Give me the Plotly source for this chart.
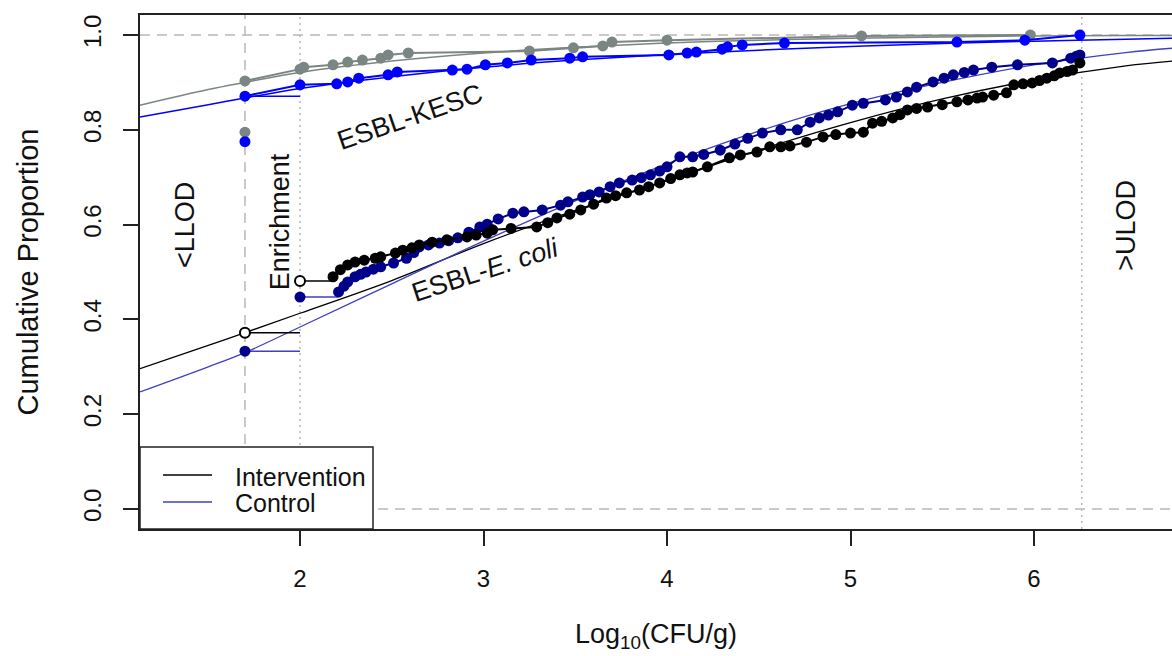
import plotly.graph_objects as go

# ---- reference limits (log10 CFU/g) ----
LLOD = 1.7
ENRICH = 2.0
ULOD = 6.26

# ---- ESBL-E. coli : Intervention (black) ----
ecoli_int_x = [2.18, 2.22, 2.26, 2.30, 2.35, 2.41, 2.44, 2.52, 2.56, 2.61,
               2.65, 2.72, 2.80, 2.91, 2.96, 3.02, 3.05, 3.15, 3.29, 3.35,
               3.40, 3.47, 3.53, 3.60, 3.67, 3.72, 3.78, 3.85, 3.90, 3.96,
               4.02, 4.07, 4.11, 4.14, 4.22, 4.34, 4.40, 4.49, 4.56, 4.62,
               4.67, 4.76, 4.85, 4.92, 5.00, 5.07, 5.12, 5.17, 5.23, 5.27,
               5.31, 5.36, 5.42, 5.50, 5.58, 5.64, 5.69, 5.72, 5.78, 5.85,
               5.89, 5.94, 5.99, 6.03, 6.07, 6.11, 6.14, 6.18, 6.21, 6.25]
ecoli_int_y = [0.490, 0.505, 0.515, 0.521, 0.525, 0.529, 0.532, 0.540, 0.546, 0.551,
               0.557, 0.563, 0.568, 0.574, 0.578, 0.582, 0.589, 0.592, 0.595, 0.604,
               0.614, 0.622, 0.631, 0.643, 0.656, 0.661, 0.667, 0.673, 0.680, 0.688,
               0.697, 0.705, 0.709, 0.711, 0.722, 0.741, 0.747, 0.753, 0.764, 0.764,
               0.766, 0.774, 0.785, 0.790, 0.793, 0.795, 0.814, 0.818, 0.825, 0.832,
               0.842, 0.845, 0.848, 0.853, 0.859, 0.863, 0.867, 0.869, 0.873, 0.878,
               0.895, 0.897, 0.899, 0.904, 0.909, 0.914, 0.920, 0.923, 0.926, 0.941]
ecoli_int_llod = 0.372
ecoli_int_enrich = 0.481

# ---- ESBL-E. coli : Control (navy) ----
ecoli_ctrl_x = [2.21, 2.24, 2.26, 2.30, 2.33, 2.36, 2.40, 2.44, 2.51, 2.58,
                2.62, 2.65, 2.70, 2.76, 2.81, 2.86, 2.92, 2.98, 3.02, 3.08,
                3.16, 3.22, 3.32, 3.42, 3.46, 3.54, 3.58, 3.63, 3.69, 3.74,
                3.81, 3.86, 3.91, 3.96, 4.00, 4.07, 4.14, 4.20, 4.29, 4.37,
                4.44, 4.52, 4.62, 4.71, 4.78, 4.83, 4.88, 4.93, 5.01, 5.07,
                5.19, 5.25, 5.31, 5.36, 5.45, 5.51, 5.56, 5.62, 5.67, 5.77,
                5.91, 6.10, 6.20, 6.23, 6.25]
ecoli_ctrl_y = [0.458, 0.470, 0.479, 0.490, 0.495, 0.500, 0.506, 0.511, 0.519, 0.529,
                0.541, 0.553, 0.557, 0.561, 0.566, 0.572, 0.584, 0.595, 0.601, 0.612,
                0.624, 0.627, 0.631, 0.641, 0.648, 0.658, 0.663, 0.669, 0.680, 0.688,
                0.694, 0.699, 0.705, 0.713, 0.722, 0.743, 0.743, 0.748, 0.757, 0.770,
                0.782, 0.793, 0.800, 0.800, 0.816, 0.825, 0.831, 0.838, 0.852, 0.856,
                0.863, 0.869, 0.880, 0.890, 0.901, 0.909, 0.916, 0.921, 0.926, 0.932,
                0.937, 0.941, 0.951, 0.955, 0.958]
ecoli_ctrl_llod = 0.333
ecoli_ctrl_enrich = 0.447

# ---- ESBL-KESC : Intervention (gray) ----
kesc_int_x = [1.70, 2.00, 2.02, 2.18, 2.26, 2.34, 2.44, 2.48, 2.59, 3.25,
              3.49, 3.65, 3.70, 4.00, 5.06, 5.98]
kesc_int_y = [0.903, 0.928, 0.932, 0.937, 0.943, 0.947, 0.951, 0.958, 0.962, 0.966,
              0.973, 0.977, 0.985, 0.989, 0.998, 1.000]
kesc_int_low = 0.795

# ---- ESBL-KESC : Control (blue) ----
kesc_ctrl_x = [1.70, 2.00, 2.20, 2.26, 2.32, 2.48, 2.53, 2.83, 2.91, 3.01,
               3.13, 3.26, 3.47, 3.54, 4.01, 4.11, 4.16, 4.30, 4.33, 4.41,
               4.64, 5.58, 5.95, 6.25]
kesc_ctrl_y = [0.871, 0.895, 0.897, 0.901, 0.909, 0.916, 0.922, 0.926, 0.928, 0.937,
               0.941, 0.947, 0.951, 0.954, 0.958, 0.962, 0.964, 0.970, 0.975, 0.979,
               0.983, 0.985, 0.989, 1.000]
kesc_ctrl_low = 0.775

# ---- fitted distribution curves ----
fit_x = [1.128, 1.5, 1.7, 2.0, 2.5, 3.0, 3.5, 4.0, 4.5, 5.0, 5.5, 6.0, 6.5, 6.752]
ecoli_int_fit = [0.296, 0.345, 0.372, 0.413, 0.482, 0.560, 0.630, 0.693, 0.757, 0.815, 0.865, 0.905, 0.935, 0.945]
ecoli_ctrl_fit = [0.247, 0.300, 0.330, 0.384, 0.475, 0.565, 0.650, 0.728, 0.797, 0.855, 0.900, 0.937, 0.963, 0.972]
kesc_int_fit = [0.852, 0.885, 0.900, 0.921, 0.945, 0.962, 0.974, 0.983, 0.989, 0.993, 0.996, 0.998, 0.999, 0.999]
kesc_ctrl_fit = [0.827, 0.853, 0.867, 0.887, 0.912, 0.932, 0.947, 0.959, 0.968, 0.976, 0.982, 0.987, 0.991, 0.993]

y_ticks = [0.0, 0.2, 0.4, 0.6, 0.8, 1.0]
y_tick_text = ["0.0", "0.2", "0.4", "0.6", "0.8", "1.0"]
x_ticks = [2, 3, 4, 5, 6]
legend_names = ["Intervention", "Control"]

FONT = "Liberation Sans, Arial, sans-serif"
BLACK = "#000000"
NAVY = "#00008B"
CTRL_LINE = "#4040c0"
GRAY = "#7b8583"
BLUE = "#0000FF"
MS = 11

fig = go.Figure()

# fitted curves
fig.add_trace(go.Scatter(x=fit_x, y=kesc_int_fit, mode="lines", line=dict(color=GRAY, width=1.5, shape="spline"), showlegend=False))
fig.add_trace(go.Scatter(x=fit_x, y=kesc_ctrl_fit, mode="lines", line=dict(color=BLUE, width=1.5, shape="spline"), showlegend=False))
fig.add_trace(go.Scatter(x=fit_x, y=ecoli_int_fit, mode="lines", name=legend_names[0], showlegend=False,
                         line=dict(color=BLACK, width=1.3, shape="spline")))
fig.add_trace(go.Scatter(x=fit_x, y=ecoli_ctrl_fit, mode="lines", name=legend_names[1], showlegend=False,
                         line=dict(color=CTRL_LINE, width=1.3, shape="spline")))

# KESC empirical
fig.add_trace(go.Scatter(x=[LLOD, ENRICH], y=[kesc_ctrl_y[0], kesc_ctrl_y[0]], mode="lines",
                         line=dict(color=BLUE, width=1.5), showlegend=False))
fig.add_trace(go.Scatter(x=kesc_int_x, y=kesc_int_y, mode="lines+markers",
                         line=dict(color=GRAY, width=2), marker=dict(color=GRAY, size=MS), showlegend=False))
fig.add_trace(go.Scatter(x=kesc_ctrl_x, y=kesc_ctrl_y, mode="lines+markers",
                         line=dict(color=BLUE, width=2), marker=dict(color=BLUE, size=MS), showlegend=False))
fig.add_trace(go.Scatter(x=[LLOD], y=[kesc_int_low], mode="markers",
                         marker=dict(color=GRAY, size=MS), showlegend=False))
fig.add_trace(go.Scatter(x=[LLOD], y=[kesc_ctrl_low], mode="markers",
                         marker=dict(color=BLUE, size=MS), showlegend=False))

# E. coli censored segments
fig.add_trace(go.Scatter(x=[LLOD, ENRICH], y=[ecoli_int_llod, ecoli_int_llod], mode="lines",
                         line=dict(color=BLACK, width=1.5), showlegend=False))
fig.add_trace(go.Scatter(x=[LLOD, ENRICH], y=[ecoli_ctrl_llod, ecoli_ctrl_llod], mode="lines",
                         line=dict(color=CTRL_LINE, width=1.5), showlegend=False))
fig.add_trace(go.Scatter(x=[ENRICH, ecoli_int_x[0]], y=[ecoli_int_enrich, ecoli_int_enrich], mode="lines",
                         line=dict(color=BLACK, width=1.5), showlegend=False))
fig.add_trace(go.Scatter(x=[ENRICH, ecoli_ctrl_x[0]], y=[ecoli_ctrl_enrich, ecoli_ctrl_enrich], mode="lines",
                         line=dict(color=CTRL_LINE, width=1.5), showlegend=False))

# E. coli empirical
fig.add_trace(go.Scatter(x=ecoli_ctrl_x, y=ecoli_ctrl_y, mode="lines+markers",
                         line=dict(color=NAVY, width=2), marker=dict(color=NAVY, size=MS), showlegend=False))
fig.add_trace(go.Scatter(x=ecoli_int_x, y=ecoli_int_y, mode="lines+markers",
                         line=dict(color=BLACK, width=2), marker=dict(color=BLACK, size=MS), showlegend=False))
fig.add_trace(go.Scatter(x=[LLOD, ENRICH], y=[ecoli_ctrl_llod, ecoli_ctrl_enrich], mode="markers",
                         marker=dict(color=NAVY, size=MS), showlegend=False))
fig.add_trace(go.Scatter(x=[LLOD, ENRICH], y=[ecoli_int_llod, ecoli_int_enrich], mode="markers",
                         marker=dict(color="white", size=10, symbol="circle", line=dict(color=BLACK, width=2)),
                         showlegend=False))

# reference lines
GUIDE = "#b8b8b8"
fig.add_shape(type="line", xref="x", yref="paper", x0=LLOD, x1=LLOD, y0=0, y1=1,
              line=dict(color=GUIDE, width=1.5, dash="10px,7px"), layer="below")
fig.add_shape(type="line", xref="x", yref="paper", x0=ENRICH, x1=ENRICH, y0=0, y1=1,
              line=dict(color=GUIDE, width=1.5, dash="2px,4px"), layer="below")
fig.add_shape(type="line", xref="x", yref="paper", x0=ULOD, x1=ULOD, y0=0, y1=1,
              line=dict(color=GUIDE, width=1.5, dash="2px,4px"), layer="below")
for yv in (0.0, 1.0):
    fig.add_shape(type="line", xref="paper", yref="y", x0=0, x1=1, y0=yv, y1=yv,
                  line=dict(color=GUIDE, width=1.5, dash="10px,7px"), layer="below")

# legend box (R style, bottom-left inside the plot); plot area is 1032 x 514 px
fig.add_shape(type="rect", xref="paper", yref="paper", x0=0, x1=233 / 1032, y0=0, y1=82 / 514,
              fillcolor="white", line=dict(color="#222222", width=1.5), layer="above")
fig.add_shape(type="line", xref="paper", yref="paper", x0=23 / 1032, x1=72 / 1032, y0=54 / 514, y1=54 / 514,
              line=dict(color=BLACK, width=1.5), layer="above")
fig.add_shape(type="line", xref="paper", yref="paper", x0=23 / 1032, x1=72 / 1032, y0=27 / 514, y1=27 / 514,
              line=dict(color=CTRL_LINE, width=1.5), layer="above")
leg_font = dict(family=FONT, size=25, color="#111111")
fig.add_annotation(xref="paper", yref="paper", x=93 / 1032, y=52 / 514, xanchor="left", yanchor="middle",
                   text=legend_names[0], showarrow=False, font=leg_font)
fig.add_annotation(xref="paper", yref="paper", x=93 / 1032, y=26 / 514, xanchor="left", yanchor="middle",
                   text=legend_names[1], showarrow=False, font=leg_font)

# annotations
ann_font = dict(family=FONT, size=27, color="#111111")
fig.add_annotation(x=1.373, y=0.599, text="&lt;LLOD", textangle=-90, showarrow=False, font=ann_font)
fig.add_annotation(x=1.891, y=0.605, text="Enrichment", textangle=-90, showarrow=False, font=ann_font)
fig.add_annotation(x=6.50, y=0.599, text="&gt;ULOD", textangle=-90, showarrow=False, font=ann_font)
fig.add_annotation(x=2.60, y=0.828, text="ESBL-KESC", textangle=-19, showarrow=False, font=ann_font)
fig.add_annotation(x=3.01, y=0.504, text="ESBL-<i>E. coli</i>", textangle=-18, showarrow=False, font=ann_font)

fig.update_layout(
    width=1172, height=656,
    margin=dict(l=140, r=0, t=15, b=127),
    paper_bgcolor="white", plot_bgcolor="white",
    font=dict(family=FONT, size=24, color="#111111"),
    showlegend=False,
    hovermode=False,
    xaxis=dict(range=[1.128, 6.752], tickvals=x_ticks, ticks="outside", ticklen=15, tickwidth=1.5,
               tickcolor="#222222", showline=True, linecolor="#222222", linewidth=1.5, mirror=True,
               showgrid=False, zeroline=False, tickfont=dict(size=24), ticklabelstandoff=12,
               automargin=False,
               title=dict(text="Log<sub>10</sub>(CFU/g)", font=dict(size=27), standoff=34)),
    yaxis=dict(range=[-0.0422, 1.0422], tickvals=y_ticks, ticktext=y_tick_text, tickangle=-90,
               ticks="outside", ticklen=15, tickwidth=1.5, tickcolor="#222222",
               showline=True, linecolor="#222222", linewidth=1.5, mirror=False,
               showgrid=False, zeroline=False, tickfont=dict(size=24), ticklabelstandoff=13,
               automargin=False,
               title=dict(text="Cumulative Proportion", font=dict(size=29), standoff=32)),
)

# remove the browser's default page margin so the figure sits at the window's top-left corner
fig.write_html("out.html", config={"displayModeBar": False},
               post_script="document.body.style.margin='0';document.body.style.overflow='hidden';")
